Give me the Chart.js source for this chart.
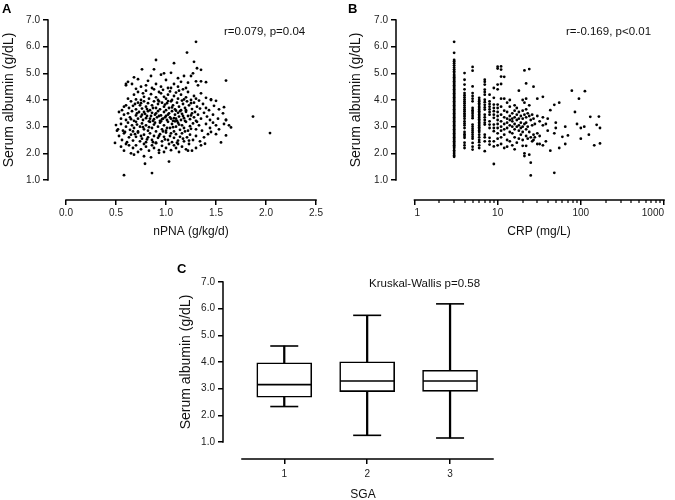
<!DOCTYPE html>
<html><head><meta charset="utf-8">
<script src="https://cdn.jsdelivr.net/npm/chart.js@4.4.1/dist/chart.umd.min.js"></script>
<style>
html,body{margin:0;padding:0;background:#fff;}
body{width:675px;height:500px;position:relative;overflow:hidden;}
canvas{position:absolute;}
</style></head><body>
<canvas id="cA" width="337" height="240" style="left:0px;top:0px;width:337px;height:240px"></canvas>
<canvas id="cB" width="338" height="240" style="left:337px;top:0px;width:338px;height:240px"></canvas>
<canvas id="cC" width="340" height="255" style="left:160px;top:245px;width:340px;height:255px"></canvas>
<script>
// ---------------- DATA ----------------
const albuminTicks = [1, 2, 3, 4, 5, 6, 7];
const npnaTicks = [0, 0.5, 1.0, 1.5, 2.0, 2.5];
const crpMajorTicks = [1, 10, 100, 1000];
const crpMinorTicks = [2,3,4,5,6,7,8,9,20,30,40,50,60,70,80,90,200,300,400,500,600,700,800,900];
const sgaGroups = [1, 2, 3];

// Panel A: nPNA (g/kg/d) vs serum albumin (g/dL)
const npnaAlbumin = [
 [1.30,6.18],[1.21,5.78],[0.90,5.50],[1.08,5.38],[1.28,5.43],[1.31,5.19],[1.35,5.13],[0.76,5.15],[0.88,5.15],[0.98,5.00],
 [1.60,4.73],[1.40,4.67],[1.35,4.70],[0.62,4.68],[0.60,4.60],[0.68,4.85],[0.58,1.18],[0.86,1.26],[0.79,1.61],[1.03,1.69],
 [0.78,1.89],[0.85,1.85],[0.49,2.39],[0.50,3.06],[0.51,2.85],[1.87,3.38],[2.04,2.76],[1.65,2.97],[1.63,3.05],[1.55,2.41],
 [1.60,2.67],[1.60,3.25],[1.58,3.73],[1.50,3.97],[1.45,4.00],[1.39,2.36],[1.50,2.72],[1.45,2.80],
 [1.05,5.02],[1.18,4.90],[1.12,4.82],[0.95,4.95],[0.85,4.90],[1.25,4.90],[1.27,5.00],[0.72,4.78],[0.66,4.60],[0.82,4.72],
 [1.00,4.75],[1.15,4.68],[1.30,4.70],[1.22,4.65],[0.60,4.55],[0.90,4.60],[1.08,4.60],[0.75,4.50],[0.80,4.55],[0.95,4.50],
 [1.02,4.45],[1.12,4.50],[1.20,4.45],[0.70,4.42],[1.32,4.55],
 [0.62,4.05],[0.68,4.20],[0.72,4.30],[0.75,4.00],[0.78,4.12],[0.80,4.35],[0.83,4.05],[0.85,4.22],[0.88,4.40],[0.90,4.10],
 [0.92,4.00],[0.95,4.25],[0.97,4.38],[1.00,4.05],[1.02,4.20],[1.04,4.32],[1.06,4.00],[1.08,4.15],[1.10,4.28],[1.12,4.05],
 [1.15,4.20],[1.17,4.40],[1.20,4.10],[1.22,4.30],[1.25,4.00],[1.28,4.15],[1.30,4.05],[1.35,4.25],[1.40,4.08],[1.45,4.02],
 [0.86,4.45],[1.05,4.45],[0.70,4.02],[1.18,4.02],[0.98,4.12],[0.93,4.30],[1.13,4.35],[0.77,4.25],[1.33,3.98],
 [0.56,3.62],[0.60,3.80],[0.63,3.70],[0.65,3.95],[0.67,3.78],[0.70,3.65],[0.72,3.90],[0.74,3.80],[0.76,3.68],[0.78,3.95],
 [0.80,3.75],[0.82,3.88],[0.84,3.62],[0.86,3.80],[0.88,3.95],[0.90,3.70],[0.92,3.85],[0.94,3.65],[0.96,3.90],[0.98,3.75],
 [1.00,3.62],[1.01,3.88],[1.03,3.70],[1.05,3.95],[1.07,3.80],[1.09,3.65],[1.11,3.90],[1.13,3.75],[1.15,3.62],[1.17,3.85],
 [1.19,3.70],[1.21,3.95],[1.23,3.80],[1.26,3.66],[1.28,3.90],[1.31,3.75],[1.34,3.68],[1.37,3.85],[1.40,3.70],[1.43,3.62],
 [1.48,3.78],[1.53,3.65],[0.69,3.85],[0.81,3.66],[0.93,3.95],[1.06,3.72],[1.16,3.98],[1.25,3.88],[0.87,3.70],[0.99,3.83],
 [1.10,3.60],[0.75,3.88],[1.20,3.62],[1.02,3.96],[0.58,3.75],
 [0.53,3.55],[0.55,3.30],[0.58,3.45],[0.60,3.25],[0.62,3.50],[0.64,3.35],[0.66,3.58],[0.68,3.22],[0.70,3.42],[0.72,3.30],
 [0.73,3.55],[0.75,3.38],[0.77,3.25],[0.79,3.48],[0.80,3.32],[0.82,3.58],[0.83,3.20],[0.85,3.40],[0.86,3.52],[0.88,3.28],
 [0.89,3.45],[0.91,3.35],[0.92,3.58],[0.94,3.22],[0.95,3.42],[0.97,3.30],[0.98,3.55],[1.00,3.40],[1.01,3.25],[1.03,3.50],
 [1.04,3.35],[1.06,3.58],[1.07,3.22],[1.09,3.45],[1.10,3.30],[1.12,3.52],[1.13,3.38],[1.15,3.25],[1.16,3.48],[1.18,3.32],
 [1.20,3.56],[1.22,3.40],[1.24,3.28],[1.26,3.50],[1.28,3.35],[1.30,3.22],[1.32,3.45],[1.35,3.30],[1.38,3.52],[1.41,3.38],
 [1.44,3.25],[1.47,3.45],[1.52,3.30],[1.57,3.50],[1.60,3.25],[0.65,3.28],[0.78,3.55],[0.84,3.30],[0.90,3.50],[0.96,3.28],
 [1.02,3.45],[1.08,3.32],[1.14,3.58],[1.19,3.22],[1.25,3.42],[0.71,3.50],[0.87,3.22],[0.99,3.35],[1.11,3.22],[0.76,3.45],
 [0.93,3.40],[1.05,3.30],[1.17,3.40],[1.29,3.55],[0.81,3.40],
 [0.52,2.90],[0.55,3.10],[0.57,2.85],[0.60,3.00],[0.62,3.15],[0.64,2.88],[0.66,3.05],[0.68,2.95],[0.70,3.18],[0.72,2.82],
 [0.74,3.00],[0.76,3.12],[0.78,2.90],[0.80,3.05],[0.82,2.85],[0.84,3.18],[0.86,2.95],[0.88,3.08],[0.90,2.82],[0.92,3.00],
 [0.94,3.15],[0.96,2.90],[0.98,3.05],[1.00,2.85],[1.02,3.18],[1.04,2.95],[1.06,3.10],[1.08,2.82],[1.10,3.00],[1.12,3.15],
 [1.14,2.88],[1.16,3.05],[1.18,2.95],[1.20,3.18],[1.22,2.85],[1.24,3.02],[1.27,3.12],[1.30,2.90],[1.33,3.05],[1.36,2.85],
 [1.40,3.10],[1.44,2.95],[1.47,3.15],[1.50,3.05],[1.53,2.90],[1.58,3.10],[0.59,2.80],[0.71,3.08],[0.83,2.98],[0.95,3.20],
 [1.07,2.98],[1.19,2.82],[1.31,3.18],[0.77,2.98],[0.89,3.15],[1.01,2.95],[1.13,3.08],[1.25,2.92],[0.67,2.82],[1.09,3.20],
 [0.97,2.82],
 [0.53,2.65],[0.56,2.50],[0.58,2.75],[0.61,2.42],[0.63,2.60],[0.65,2.70],[0.67,2.48],[0.70,2.62],[0.72,2.78],[0.74,2.45],
 [0.76,2.55],[0.78,2.70],[0.80,2.42],[0.82,2.60],[0.84,2.75],[0.86,2.50],[0.88,2.65],[0.90,2.40],[0.92,2.58],[0.94,2.72],
 [0.96,2.45],[0.98,2.62],[1.00,2.78],[1.02,2.50],[1.04,2.65],[1.06,2.42],[1.08,2.58],[1.10,2.72],[1.12,2.48],[1.14,2.62],
 [1.16,2.75],[1.18,2.45],[1.21,2.60],[1.24,2.70],[1.27,2.50],[1.30,2.65],[1.34,2.45],[1.38,2.60],[1.42,2.72],[0.69,2.72],
 [0.81,2.52],[0.93,2.65],[1.05,2.75],[1.17,2.55],[0.75,2.65],[0.87,2.42],[0.99,2.52],[1.11,2.40],[1.23,2.48],
 [0.55,2.25],[0.58,2.10],[0.60,2.35],[0.65,2.00],[0.67,2.20],[0.70,2.30],[0.72,2.05],[0.75,2.15],[0.78,2.35],[0.80,2.25],
 [0.83,2.10],[0.86,2.30],[0.88,2.20],[0.90,2.38],[0.93,2.12],[0.96,2.28],[0.98,2.05],[1.00,2.20],[1.03,2.35],[1.05,2.12],
 [1.08,2.30],[1.10,2.20],[1.13,2.05],[1.16,2.25],[1.20,2.15],[1.23,2.35],[1.26,2.10],[1.30,2.20],[1.35,2.30],[0.68,1.95],
 [0.93,2.02],[1.22,2.10],[0.63,2.30],[1.12,2.35]
];

// Panel B: CRP (mg/L) vs serum albumin (g/dL); integer CRP columns below 11
const albAtCrp3 = [6.18,5.77,5.50,5.45,5.38,5.30,5.22,5.15,5.08,5.02,4.95,4.90,4.85,4.80,4.75,4.70,4.65,4.60,4.55,4.50,
 4.45,4.40,4.35,4.30,4.25,4.20,4.15,4.10,4.05,4.00,3.95,3.90,3.85,3.80,3.75,3.70,3.65,3.60,3.55,3.50,3.45,3.40,3.35,3.30,
 3.25,3.20,3.15,3.10,3.05,3.00,2.95,2.90,2.85,2.80,2.75,2.70,2.65,2.60,2.55,2.50,2.45,2.40,2.35,2.30,2.25,2.20,2.12,2.05,
 1.98,1.92,1.87];
const albAtCrp4 = [5.01,4.76,4.58,4.40,4.26,4.18,4.10,4.02,3.95,3.88,3.80,3.72,3.65,3.58,3.50,3.44,3.38,3.30,3.20,3.12,3.05,
 2.95,2.80,2.72,2.65,2.58,2.40,2.30,2.20];
const albAtCrp5 = [5.24,5.10,4.51,4.26,4.15,4.05,3.95,3.70,3.62,3.55,3.48,3.40,3.32,3.08,3.00,2.92,2.85,2.78,2.70,2.62,2.55,
 2.39,2.25,2.14];
const albAtCrp6 = [4.08,4.00,3.95,3.88,3.82,3.75,3.70,3.64,3.58,3.52,3.46,3.40,3.34,3.28,3.22,3.16,3.10,3.04,2.98,2.92,2.86,
 2.80,2.70,2.60,2.50,2.42,2.30,2.20];
const albAtCrp7 = [4.76,4.68,4.58,4.39,4.30,4.20,4.01,3.92,3.82,3.72,3.64,3.45,3.35,3.25,3.15,3.08,2.70,2.60,2.45,2.08];
const albAtCrp8 = [4.20,3.95,3.85,3.75,3.65,3.55,3.45,3.20,3.08,2.95,2.58,2.45,2.33];
const albAtCrp9 = [4.45,4.08,3.83,3.70,3.58,3.45,3.33,3.08,2.95,2.83,2.45,2.26,1.60];
const albAtCrp10 = [5.25,5.18,4.58,4.40,3.83,3.70,3.55,3.40,3.25,3.10,2.95,2.75,2.55,2.30];
const crpAlbuminHigh = [
 [11,5.26],[11,5.14],[11,4.88],[11,4.60],[11,4.05],[11,3.75],[11,3.45],[11,3.20],[11,3.00],[11,2.85],[11,2.60],[11,2.35],
 [12,4.87],[12,4.05],[12,3.60],[12,3.35],[12,3.10],[12,2.90],[12,2.70],[12,2.20],
 [13,3.90],[13,3.55],[13,3.30],[13,3.15],[13,2.95],[13,2.50],[13,2.25],
 [14,4.00],[14,3.75],[14,3.40],[14,3.25],[14,3.05],[14,2.80],[14,2.45],
 [15,3.50],[15,3.30],[15,3.20],[15,3.00],[15,2.75],[15,2.30],
 [16,3.80],[16,3.60],[16,3.35],[16,3.10],[16,2.90],[16,2.60],[16,2.15],
 [17,3.70],[17,3.45],[17,3.25],[17,3.00],[17,2.40],
 [18,4.35],[18,3.55],[18,3.30],[18,3.05],[18,2.85],[18,2.55],
 [19,3.40],[19,3.15],[19,2.95],[19,2.70],
 [20,4.00],[20,3.60],[20,3.30],[20,3.00],[20,2.80],[20,2.50],[20,2.28],
 [21,5.11],[21,3.90],[21,3.45],[21,3.10],[21,2.00],[21,1.90],
 [22,4.62],[22,4.05],[22,3.65],[22,3.35],[22,3.15],[22,2.90],[22,2.65],[22,2.28],
 [23,3.50],[23,3.00],[23,2.55],
 [24,5.16],[24,3.80],[24,3.40],[24,2.80],[24,1.95],
 [25,3.25],[25,2.60],[25,1.65],[25,1.17],
 [26,3.45],[26,3.05],[26,2.45],
 [27,4.50],[27,3.30],[27,2.70],[27,2.50],
 [28,3.10],[28,2.60],
 [30,4.05],[30,3.40],[30,2.75],[30,2.35],
 [32,3.20],[32,2.65],[32,2.35],
 [35,4.12],[35,3.35],[35,3.05],[35,2.30],
 [38,3.10],[38,2.45],[40,3.30],[40,2.85],[43,3.62],[43,2.10],
 [48,3.82],[48,2.75],[48,1.27],[50,2.95],[50,3.15],[55,3.90],[55,2.20],[60,2.62],[65,3.00],[65,2.35],
 [70,2.67],[78,4.35],[85,3.55],[90,3.10],[95,4.05],[100,2.95],[100,2.55],[110,3.00],[112,4.33],[125,2.70],
 [130,3.37],[145,2.30],[155,3.07],[165,3.38],[170,2.95],[170,2.37]
];

// Panel C: box plot of serum albumin by SGA
const boxMin    = [2.33, 1.25, 1.15];
const boxQ1     = [2.68, 2.89, 2.90];
const boxMedian = [3.15, 3.29, 3.29];
const boxQ3     = [3.97, 4.01, 3.69];
const boxMax    = [4.60, 5.75, 6.18];

// ---------------- HELPERS ----------------
const FONT = "'Liberation Sans', Arial, Helvetica, sans-serif";
Chart.defaults.font.family = FONT;
Chart.defaults.color = '#222';
Chart.defaults.animation = false;

const crpColumns = [[3,albAtCrp3],[4,albAtCrp4],[5,albAtCrp5],[6,albAtCrp6],[7,albAtCrp7],[8,albAtCrp8],[9,albAtCrp9],[10,albAtCrp10]];
const crpAlbumin = [];
crpColumns.forEach(([c, arr]) => arr.forEach(v => crpAlbumin.push([c, v])));
crpAlbuminHigh.forEach(p => crpAlbumin.push(p));

function gridOpts() {
  return {display:true, drawOnChartArea:false, drawTicks:true, tickLength:5, color:'#000', lineWidth:1.5, offset:false};
}
function zeroPad(s) { s.paddingLeft = 0; s.paddingRight = 0; s.paddingTop = 0; s.paddingBottom = 0; }
function yScale(min, width) {
  return {
    type:'linear', min:min, max:7, position:'left',
    border:{display:false}, grid:gridOpts(),
    ticks:{font:{size:10}, color:'#222', padding:3, autoSkip:false, callback:v => Number(v).toFixed(1)},
    afterBuildTicks(s){ s.ticks = albuminTicks.map(v => ({value:v})); },
    afterFit(s){ s.width = width; zeroPad(s); }
  };
}
function decor(cfg) {
  return {
    id:'decor',
    afterDraw(chart) {
      const ctx = chart.ctx, xs = chart.scales.x, ys = chart.scales.y, a = chart.chartArea;
      ctx.save();
      ctx.strokeStyle = '#000'; ctx.lineWidth = 1.5;
      ctx.beginPath();
      ctx.moveTo(a.left, ys.getPixelForValue(cfg.yLine[0]) + 0.75);
      ctx.lineTo(a.left, ys.getPixelForValue(cfg.yLine[1]) - 0.75);
      ctx.moveTo(xs.getPixelForValue(cfg.xLine[0]) - 0.75, a.bottom);
      ctx.lineTo(xs.getPixelForValue(cfg.xLine[1]) + 0.75, a.bottom);
      ctx.stroke();
      if (cfg.minor) {
        ctx.lineWidth = 1.2;
        ctx.beginPath();
        cfg.minor.forEach(v => {
          const px = Math.round(xs.getPixelForValue(v));
          ctx.moveTo(px, a.bottom); ctx.lineTo(px, a.bottom + 3);
        });
        ctx.stroke();
      }
      cfg.texts.forEach(t => {
        ctx.save();
        ctx.fillStyle = t.color || '#111';
        ctx.font = t.font;
        ctx.textAlign = t.align || 'left';
        ctx.textBaseline = t.baseline || 'alphabetic';
        ctx.translate(t.x, t.y);
        if (t.rotate) ctx.rotate(t.rotate);
        ctx.fillText(t.text, 0, 0);
        ctx.restore();
      });
      ctx.restore();
    }
  };
}
const commonPlugins = {legend:{display:false}, tooltip:{enabled:false}, title:{display:false}};

// ---------------- PANEL A ----------------
new Chart(document.getElementById('cA'), {
  type:'scatter',
  data:{datasets:[{data:npnaAlbumin.map(p => ({x:p[0], y:p[1]})), pointRadius:1.4, pointBorderWidth:0,
    pointBackgroundColor:'#000', backgroundColor:'#000', borderColor:'#000'}]},
  options:{
    responsive:false, animation:false, events:[],
    layout:{autoPadding:false, padding:{left:0, top:20, right:21, bottom:0}},
    plugins:commonPlugins,
    scales:{
      x:{type:'linear', min:-0.18, max:2.5, border:{display:false}, grid:gridOpts(),
         ticks:{font:{size:10}, color:'#222', padding:2, autoSkip:false, maxRotation:0, callback:v => Number(v).toFixed(1)},
         afterBuildTicks(s){ s.ticks = npnaTicks.map(v => ({value:v})); },
         afterFit(s){ s.height = 40; zeroPad(s); }},
      y:yScale(0.25, 48)
    }
  },
  plugins:[decor({yLine:[1,7], xLine:[0,2.5], texts:[
    {text:'A', x:2, y:12.5, font:'bold 13px '+FONT, color:'#000'},
    {text:'r=0.079, p=0.04', x:224, y:35, font:'11.5px '+FONT},
    {text:'Serum albumin (g/dL)', x:9.5, y:100, font:'14px '+FONT, align:'center', baseline:'middle', rotate:-Math.PI/2},
    {text:'nPNA (g/kg/d)', x:191, y:235, font:'12px '+FONT, align:'center'}
  ]})]
});

// ---------------- PANEL B ----------------
new Chart(document.getElementById('cB'), {
  type:'scatter',
  data:{datasets:[{data:crpAlbumin.map(p => ({x:p[0], y:p[1]})), pointRadius:1.4, pointBorderWidth:0,
    pointBackgroundColor:'#000', backgroundColor:'#000', borderColor:'#000'}]},
  options:{
    responsive:false, animation:false, events:[],
    layout:{autoPadding:false, padding:{left:0, top:20, right:11, bottom:0}},
    plugins:commonPlugins,
    scales:{
      x:{type:'logarithmic', min:0.626, max:1000, border:{display:false}, grid:gridOpts(),
         ticks:{font:{size:10}, color:'#222', padding:2, autoSkip:false, maxRotation:0, align:'inner', callback:v => String(v)},
         afterBuildTicks(s){ s.ticks = crpMajorTicks.map(v => ({value:v})); },
         afterFit(s){ s.height = 40; zeroPad(s); }},
      y:yScale(0.25, 59)
    }
  },
  plugins:[decor({yLine:[1,7], xLine:[1,1000], minor:crpMinorTicks, texts:[
    {text:'B', x:11, y:12.5, font:'bold 13px '+FONT, color:'#000'},
    {text:'r=-0.169, p<0.01', x:229, y:35, font:'11.5px '+FONT},
    {text:'Serum albumin (g/dL)', x:19.5, y:100, font:'14px '+FONT, align:'center', baseline:'middle', rotate:-Math.PI/2},
    {text:'CRP (mg/L)', x:202, y:235, font:'12px '+FONT, align:'center'}
  ]})]
});

// ---------------- PANEL C ----------------
new Chart(document.getElementById('cC'), {
  type:'bar',
  data:{datasets:[
    {type:'scatter', data:sgaGroups.map((g,i) => ({x:g, y:boxMedian[i]})), pointStyle:'line', pointRadius:27,
     pointBorderWidth:1.6, borderWidth:1.6, pointBorderColor:'#000', borderColor:'#000', order:0},
    {type:'scatter', data:sgaGroups.flatMap((g,i) => [{x:g, y:boxMin[i]}, {x:g, y:boxMax[i]}]), pointStyle:'line', pointRadius:14,
     pointBorderWidth:1.6, borderWidth:1.6, pointBorderColor:'#000', borderColor:'#000', order:1},
    {type:'bar', data:sgaGroups.map((g,i) => ({x:g, y:[boxQ1[i], boxQ3[i]]})), backgroundColor:'#fff', borderColor:'#000',
     borderWidth:1.6, borderSkipped:false, barThickness:55, grouped:false, order:2},
    {type:'bar', data:sgaGroups.map((g,i) => ({x:g, y:[boxMin[i], boxQ1[i]]})), backgroundColor:'#000', borderWidth:0,
     barThickness:1.6, grouped:false, order:3},
    {type:'bar', data:sgaGroups.map((g,i) => ({x:g, y:[boxQ3[i], boxMax[i]]})), backgroundColor:'#000', borderWidth:0,
     barThickness:1.6, grouped:false, order:3}
  ]},
  options:{
    responsive:false, animation:false, events:[],
    layout:{autoPadding:false, padding:{left:0, top:37, right:7, bottom:0}},
    plugins:commonPlugins,
    scales:{
      x:{type:'linear', min:0.261, max:3.518, offset:false, border:{display:false}, grid:gridOpts(),
         ticks:{font:{size:10}, color:'#222', padding:4, autoSkip:false, maxRotation:0, callback:v => String(v)},
         afterBuildTicks(s){ s.ticks = sgaGroups.map(v => ({value:v})); },
         afterFit(s){ s.height = 41; zeroPad(s); }},
      y:yScale(0.3625, 63)
    }
  },
  plugins:[decor({yLine:[1,7], xLine:[0.49,3.518], texts:[
    {text:'C', x:17, y:28, font:'bold 13px '+FONT, color:'#000'},
    {text:'Kruskal-Wallis p=0.58', x:209, y:41.5, font:'11.5px '+FONT},
    {text:'Serum albumin (g/dL)', x:26, y:117, font:'14px '+FONT, align:'center', baseline:'middle', rotate:-Math.PI/2},
    {text:'SGA', x:203, y:253, font:'12px '+FONT, align:'center'}
  ]})]
});
</script>
</body></html>
